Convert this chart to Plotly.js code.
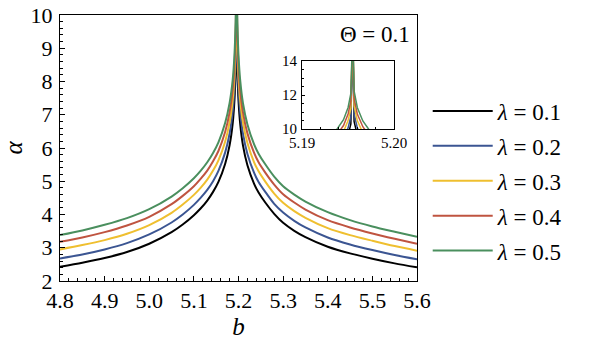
<!DOCTYPE html>
<html>
<head>
<meta charset="utf-8">
<script src="https://cdn.plot.ly/plotly-3.0.1.min.js"></script>
<style>
html,body{margin:0;padding:0;background:#fff}
#chart{width:589px;height:340px}
#chart svg text{font-family:"Liberation Serif","Times New Roman",Tinos,"DejaVu Serif",serif !important}
</style>
</head>
<body>
<div id="chart"></div>
<script>
// b values: left branch, peak, right branch
var B = [4.80, 4.85, 4.90, 4.95, 5.00, 5.05, 5.075, 5.10, 5.115, 5.13, 5.143, 5.155, 5.17, 5.18, 5.187, 5.191, 5.1935, 5.1945, 5.195, 5.1953,
         5.1955,
         5.19565, 5.196, 5.1966, 5.1976, 5.2, 5.204, 5.21, 5.22, 5.235, 5.245, 5.26, 5.28, 5.3, 5.325, 5.35, 5.4, 5.45, 5.5, 5.55, 5.6];

var LAMBDAS = ["0.1", "0.2", "0.3", "0.4", "0.5"];
var COLORS = ["#000000", "#3b5592", "#efbf2f", "#bf5440", "#4a8f5e"];

var A1 = [2.43, 2.55, 2.69, 2.87, 3.12, 3.47, 3.70, 3.98, 4.18, 4.42, 4.68, 4.98, 5.52, 6.08, 6.74, 7.45, 8.35, 9.05, 9.65, 10.3,
          16,
          10.45, 9.65, 8.98, 8.30, 7.43, 6.70, 6.08, 5.48, 4.92, 4.66, 4.36, 4.02, 3.75, 3.51, 3.32, 3.03, 2.83, 2.67, 2.53, 2.41];
var A2 = [2.68, 2.80, 2.95, 3.14, 3.40, 3.76, 4.00, 4.29, 4.50, 4.74, 5.00, 5.31, 5.86, 6.43, 7.10, 7.82, 8.73, 9.45, 10.07, 10.75,
          16,
          10.90, 10.07, 9.38, 8.68, 7.80, 7.06, 6.43, 5.82, 5.25, 4.98, 4.68, 4.32, 4.06, 3.81, 3.61, 3.31, 3.10, 2.93, 2.78, 2.65];
var A3 = [2.95, 3.08, 3.23, 3.42, 3.68, 4.05, 4.30, 4.59, 4.80, 5.05, 5.32, 5.63, 6.19, 6.77, 7.45, 8.18, 9.11, 9.85, 10.50, 11.22,
          16,
          11.37, 10.50, 9.78, 9.06, 8.16, 7.41, 6.77, 6.15, 5.57, 5.30, 4.99, 4.63, 4.35, 4.10, 3.90, 3.59, 3.38, 3.21, 3.05, 2.91];
var A4 = [3.18, 3.31, 3.47, 3.67, 3.93, 4.31, 4.56, 4.85, 5.07, 5.32, 5.60, 5.91, 6.48, 7.07, 7.76, 8.50, 9.45, 10.21, 10.89, 11.65,
          16,
          11.80, 10.89, 10.14, 9.40, 8.48, 7.72, 7.07, 6.44, 5.85, 5.57, 5.26, 4.90, 4.61, 4.36, 4.15, 3.83, 3.61, 3.43, 3.27, 3.12];
var A5 = [3.38, 3.52, 3.69, 3.89, 4.16, 4.54, 4.79, 5.09, 5.31, 5.57, 5.85, 6.17, 6.75, 7.35, 8.05, 8.81, 9.77, 10.55, 11.27, 12.10,
          16,
          12.25, 11.27, 10.48, 9.72, 8.79, 8.01, 7.35, 6.71, 6.11, 5.83, 5.51, 5.14, 4.85, 4.60, 4.39, 4.07, 3.83, 3.64, 3.48, 3.33];
var SERIES = [A1, A2, A3, A4, A5];

var THETA = "0.1";

var serif = "Liberation Serif, Times New Roman, serif";
var traces = [];
SERIES.forEach(function (a, i) {
  traces.push({ x: B, y: a, mode: "lines", name: "<i>λ</i> = " + LAMBDAS[i],
    legendgroup: "g" + i, line: { color: COLORS[i], width: 2, shape: "spline", smoothing: 0.8 },
    xaxis: "x", yaxis: "y", hoverinfo: "skip" });
});
SERIES.forEach(function (a, i) {
  traces.push({ x: B, y: a, mode: "lines", showlegend: false, legendgroup: "g" + i,
    line: { color: COLORS[i], width: 1.5 }, xaxis: "x2", yaxis: "y2", hoverinfo: "skip" });
});

var axBase = { showline: true, linecolor: "#000", linewidth: 1, mirror: true, ticks: "inside",
  tickcolor: "#000", showgrid: false, zeroline: false };

var layout = {
  width: 589, height: 340,
  margin: { l: 60, r: 172, t: 15, b: 59 },
  paper_bgcolor: "#fff", plot_bgcolor: "#fff",
  font: { family: serif, color: "#000", size: 22 },
  xaxis: Object.assign({}, axBase, { range: [4.8, 5.6], dtick: 0.1, tick0: 4.8, tickformat: ".1f", ticklen: 5,
    minor: { dtick: 0.02, ticklen: 3, ticks: "inside", tickcolor: "#000" },
    tickfont: { family: serif, size: 22 }, ticklabelstandoff: 0,
    title: { text: "<i>b</i>", font: { family: serif, size: 25 }, standoff: 2 } }),
  yaxis: Object.assign({}, axBase, { range: [2, 10], dtick: 1, ticklen: 5,
    minor: { dtick: 0.2, ticklen: 3, ticks: "inside", tickcolor: "#000" },
    tickfont: { family: serif, size: 22 }, ticklabelstandoff: 2,
    title: { text: "<i>α</i>", font: { family: serif, size: 25 }, standoff: 12 } }),
  xaxis2: Object.assign({}, axBase, { domain: [0.678, 0.936], anchor: "y2", range: [5.19, 5.20], dtick: 0.01,
    tick0: 5.19, tickformat: ".2f", ticklen: 3, minor: { dtick: 0.002, ticklen: 2, ticks: "inside", tickcolor: "#000" },
    tickfont: { family: serif, size: 15 }, ticklabelstandoff: 0 }),
  yaxis2: Object.assign({}, axBase, { domain: [0.571, 0.827], anchor: "x2", range: [10, 14], dtick: 2,
    ticklen: 3, minor: { dtick: 0.5, ticklen: 2, ticks: "inside", tickcolor: "#000" },
    tickfont: { family: serif, size: 15 }, ticklabelstandoff: 1 }),
  showlegend: true,
  legend: { x: 1.03, xanchor: "left", y: 0.72, yanchor: "top", traceorder: "grouped", tracegroupgap: 2,
    itemwidth: 60, font: { family: serif, size: 23 }, bgcolor: "rgba(0,0,0,0)" },
  annotations: [{ xref: "paper", yref: "paper", x: 0.985, y: 0.925, xanchor: "right", yanchor: "middle",
    text: "Θ = " + THETA, showarrow: false, font: { family: serif, size: 23 } }]
};

Plotly.newPlot("chart", traces, layout, { displayModeBar: false, staticPlot: true });
</script>
</body>
</html>
